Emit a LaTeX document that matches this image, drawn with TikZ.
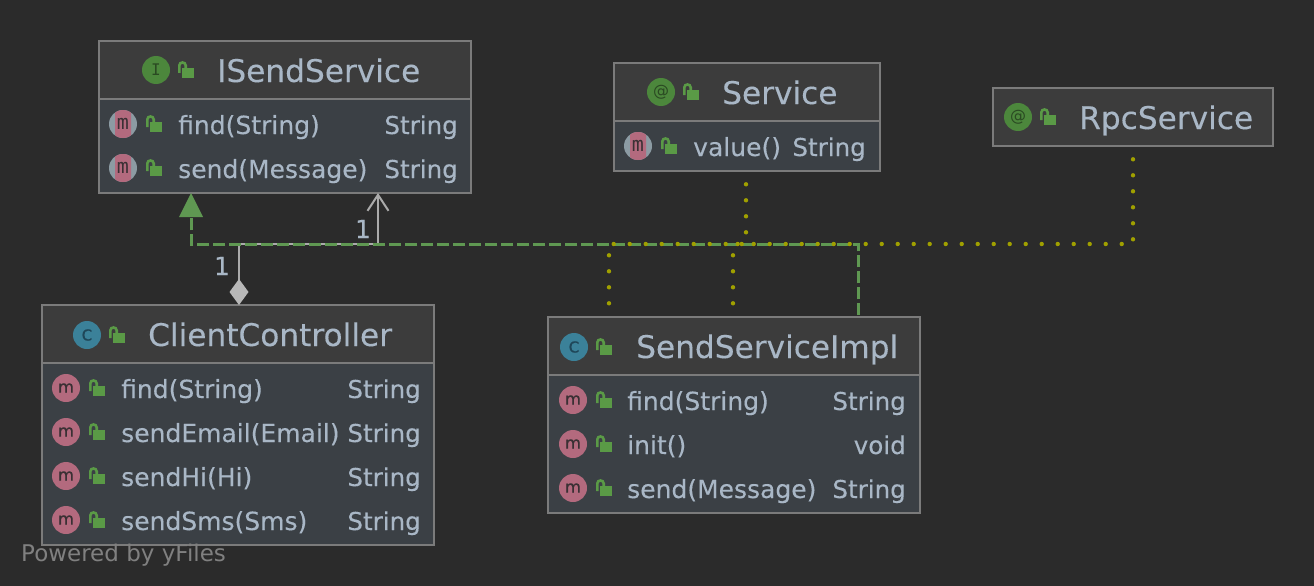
\documentclass[tikz,border=0pt]{standalone}
\usepackage{fontspec}
\setmainfont{DejaVu Sans}[FakeBold=0.2]
\newfontfamily\yfont{DejaVu Sans}
\newfontfamily\iconfont{DejaVu Sans Mono}
\newfontfamily\iconbold{DejaVu Sans}[FakeBold=1]
\usetikzlibrary{arrows.meta,backgrounds}
\definecolor{bgc}{HTML}{2B2B2B}
\definecolor{headc}{HTML}{3C3C3C}
\definecolor{bodyc}{HTML}{3B4045}
\definecolor{borderc}{HTML}{7B7B7B}
\definecolor{textc}{HTML}{A9B7C6}
\definecolor{greenc}{HTML}{5F9852}
\definecolor{dotc}{HTML}{A0A000}
\definecolor{assocc}{HTML}{ABABAB}
\definecolor{lockc}{HTML}{5A9A46}
\definecolor{mc}{HTML}{B36A7E}
\definecolor{ringc}{HTML}{8C9BA3}
\definecolor{cblue}{HTML}{3B8199}
\definecolor{igreen}{HTML}{4C873C}
\definecolor{darkglyph}{HTML}{3A3034}
\definecolor{cglyph}{HTML}{1F4658}
\definecolor{iglyph}{HTML}{2A4A22}
\tikzset{
  boxbody/.style={draw=borderc,fill=bodyc,line width=2pt,inner sep=0pt,outer sep=0pt,anchor=north west},
  boxhead/.style={draw=borderc,fill=headc,line width=2pt,inner sep=0pt,outer sep=0pt,anchor=north west},
  titletext/.style={text=textc,font=\fontsize{31.2}{31}\selectfont,anchor=base west,inner sep=0pt},
  rowtext/.style={text=textc,font=\fontsize{25}{26}\selectfont,anchor=base west,inner sep=0pt},
  rettext/.style={text=textc,font=\fontsize{24.6}{26}\selectfont,anchor=base east,inner sep=0pt},
  numtext/.style={text=textc,font=\fontsize{25}{26}\selectfont,inner sep=0pt,anchor=base},
  badge/.style={circle,minimum size=28pt,inner sep=0pt,text=darkglyph},
  ibadge/.style={badge,fill=igreen,text=iglyph,font=\iconfont\fontsize{16}{16}\selectfont},
  atbadge/.style={badge,fill=igreen,text=iglyph,font=\yfont\fontsize{16}{16}\selectfont},
  cbadge/.style={badge,fill=cblue,text=cglyph,font=\iconbold\fontsize{15}{15}\selectfont},
  mbadgestyle/.style={badge,fill=mc,font=\iconbold\fontsize{16.5}{17}\selectfont},
  abadgestyle/.style={badge,font=\iconfont\fontsize{20}{20}\selectfont},
  realizes/.style={draw=greenc,line width=3pt,dash pattern=on 12pt off 4pt,dash phase=14.3pt},
  annot/.style={draw=dotc,line width=4.4pt,line cap=round,dash pattern=on 0pt off 16pt,dash phase=2.3pt},
  assoc/.style={draw=assocc,line width=2pt},
}
% #1 box name, #2 x1, #3 y1, #4 x2, #5 y2 (header bottom), #6 y3
\newcommand{\umlbox}[6]{%
  \pgfmathsetlengthmacro{\bw}{#4-#2}%
  \pgfmathsetlengthmacro{\bh}{#6-#3}%
  \pgfmathsetlengthmacro{\hh}{#5-#3}%
  \node[boxbody,minimum width=\bw,minimum height=\bh] (#1) at (#2,#3) {};
  \node[boxhead,minimum width=\bw,minimum height=\hh] (#1head) at (#2,#3) {};
}
\newcommand{\lockicon}[2]{%
  \begin{scope}[shift={(#1,#2)}]
    \fill[lockc] (4,-2.4) rectangle (16,7.6);
    \draw[lockc,line width=2.6pt] (1.3,3) -- (1.3,-4.5) .. controls (1.3,-8.5) and (7.7,-8.5) .. (7.7,-4.5) -- (7.7,-2);
  \end{scope}}
\newcommand{\mbadge}[3]{%
  \node[mbadgestyle] (#1) at (#2,#3) {m};
  \lockicon{#2+23}{#3}}
\newcommand{\abadge}[3]{%
  \begin{scope}
    \fill[ringc] (#2,#3) circle[radius=14];
    \clip (#2-8,#3-15) rectangle (#2+8,#3+15);
    \fill[mc] (#2,#3) circle[radius=14];
  \end{scope}
  \node[abadgestyle] (#1) at (#2,#3) {m};
  \lockicon{#2+23}{#3}}
\newcommand{\hbadge}[5]{%
  \node[#4] (#1) at (#2,#3) {#5};
  \lockicon{#2+22}{#3}}
\begin{document}
\begin{tikzpicture}[x=1pt,y=-1pt]
\useasboundingbox[fill=bgc] (0,0) rectangle (1314,586);

\umlbox{isend}{99}{41}{471}{99}{193}
\umlbox{service}{614}{63}{880}{121}{171}
\umlbox{rpc}{993}{88}{1273}{146}{146}
\umlbox{client}{42}{305}{434}{363}{545}
\umlbox{impl}{548}{317}{920}{375}{513}

\coordinate (implA) at (609,317);
\coordinate (implB) at (733,317);
\coordinate (implC) at (858,317);
\coordinate (isendA) at (191,193);
\coordinate (isendB) at (378,193);
\coordinate (clientA) at (239,305);
\coordinate (serviceA) at (746,171);
\coordinate (rpcA) at (1133,146);

\draw[assoc,{Diamond[length=26pt,width=19pt,fill=assocc!85!white,line width=0pt]}-{Straight Barb[length=16pt,width=21pt,line width=2pt]}]
  (clientA) -- (clientA |- 0,244) -- (isendB |- 0,244) -- (isendB);
\draw[realizes,-{Triangle[length=24pt,width=24pt,fill=greenc,line width=0pt]}]
  (implC) -- (implC |- 0,244) -- (isendA |- 0,244) -- (isendA);
\draw[annot] (implA) -- (implA |- 0,244) -- (serviceA |- 0,244) -- (serviceA);
\draw[annot] (implB) -- (implB |- 0,244) -- (rpcA |- 0,244) -- (rpcA);

\node[numtext] (numA) at (363,238) {1};
\node[numtext] (numB) at (222,275) {1};

% ISendService
\hbadge{isendI}{156}{70}{ibadge}{I}
\node[titletext] (isendT) at (217,82) {ISendService};
\abadge{isendM1}{123}{124}
\node[rowtext] (isendR1) at (178,134) {find(String)};
\node[rettext] (isendS1) at (458,134) {String};
\abadge{isendM2}{123}{168}
\node[rowtext] (isendR2) at (178,178) {send(Message)};
\node[rettext] (isendS2) at (458,178) {String};

% Service
\hbadge{serviceI}{661}{92}{atbadge}{@}
\node[titletext] (serviceT) at (722,104) {Service};
\abadge{serviceM1}{638}{146}
\node[rowtext] (serviceR1) at (693,156) {value()};
\node[rettext] (serviceS1) at (866,156) {String};

% RpcService
\hbadge{rpcI}{1018}{117}{atbadge}{@}
\node[titletext] (rpcT) at (1079,129) {RpcService};

% ClientController
\hbadge{clientI}{87}{335}{cbadge}{C}
\node[titletext] (clientT) at (148,346) {ClientController};
\mbadge{clientM1}{66}{388}
\node[rowtext] (clientR1) at (121,398) {find(String)};
\node[rettext] (clientS1) at (421,398) {String};
\mbadge{clientM2}{66}{432}
\node[rowtext] (clientR2) at (121,442) {sendEmail(Email)};
\node[rettext] (clientS2) at (421,442) {String};
\mbadge{clientM3}{66}{476}
\node[rowtext] (clientR3) at (121,486) {sendHi(Hi)};
\node[rettext] (clientS3) at (421,486) {String};
\mbadge{clientM4}{66}{520}
\node[rowtext] (clientR4) at (121,530) {sendSms(Sms)};
\node[rettext] (clientS4) at (421,530) {String};

% SendServiceImpl
\hbadge{implI}{574}{347}{cbadge}{C}
\node[titletext] (implT) at (636,358) {SendServiceImpl};
\mbadge{implM1}{573}{400}
\node[rowtext] (implR1) at (627,410) {find(String)};
\node[rettext] (implS1) at (906,410) {String};
\mbadge{implM2}{573}{444}
\node[rowtext] (implR2) at (627,454) {init()};
\node[rettext] (implS2) at (906,454) {void};
\mbadge{implM3}{573}{488}
\node[rowtext] (implR3) at (627,498) {send(Message)};
\node[rettext] (implS3) at (906,498) {String};

\node[anchor=base west,inner sep=0pt,text=bgc!60!white,font=\yfont\fontsize{23}{23}\selectfont] (yf) at (21,561) {Powered by yFiles};
\end{tikzpicture}
\end{document}
